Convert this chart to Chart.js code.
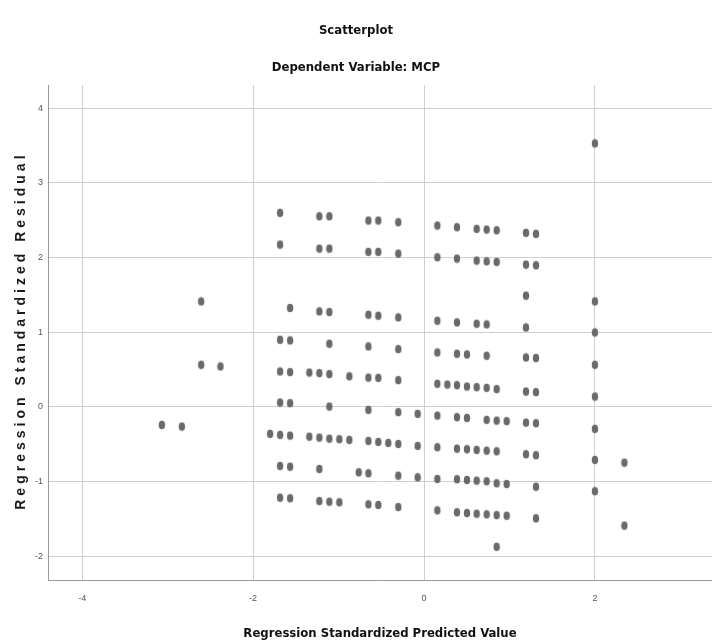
<!DOCTYPE html>
<html>
<head>
<meta charset="utf-8">
<title>Scatterplot</title>
<script src="https://cdn.jsdelivr.net/npm/chart.js@4.4.1/dist/chart.umd.min.js"></script>
<style>
  html, body { margin: 0; padding: 0; background: #fff; }
  #wrap { width: 712px; height: 644px; }
</style>
</head>
<body>
<div id="wrap"><canvas id="chart" width="712" height="644"></canvas></div>
<script>
/* ---------- Data ---------- */
// Regression standardized predicted value, one line per column of points
const predicted = [
  -3.068, -2.834, -2.608, -2.608, -2.382,
  -1.801,
  -1.684, -1.684, -1.684, -1.684, -1.684, -1.684, -1.684, -1.684,
  -1.567, -1.567, -1.567, -1.567, -1.567, -1.567, -1.567,
  -1.342, -1.342,
  -1.225, -1.225, -1.225, -1.225, -1.225, -1.225, -1.225,
  -1.108, -1.108, -1.108, -1.108, -1.108, -1.108, -1.108, -1.108,
  -0.991, -0.991,
  -0.874, -0.874,
  -0.764,
  -0.651, -0.651, -0.651, -0.651, -0.651, -0.651, -0.651, -0.651, -0.651,
  -0.535, -0.535, -0.535, -0.535, -0.535, -0.535,
  -0.418,
  -0.301, -0.301, -0.301, -0.301, -0.301, -0.301, -0.301, -0.301, -0.301,
  -0.074, -0.074, -0.074,
  0.156, 0.156, 0.156, 0.156, 0.156, 0.156, 0.156, 0.156, 0.156,
  0.273,
  0.386, 0.386, 0.386, 0.386, 0.386, 0.386, 0.386, 0.386, 0.386,
  0.503, 0.503, 0.503, 0.503, 0.503, 0.503,
  0.616, 0.616, 0.616, 0.616, 0.616, 0.616, 0.616,
  0.733, 0.733, 0.733, 0.733, 0.733, 0.733, 0.733, 0.733, 0.733,
  0.850, 0.850, 0.850, 0.850, 0.850, 0.850, 0.850, 0.850,
  0.967, 0.967, 0.967,
  1.193, 1.193, 1.193, 1.193, 1.193, 1.193, 1.193, 1.193,
  1.310, 1.310, 1.310, 1.310, 1.310, 1.310, 1.310, 1.310,
  2.000, 2.000, 2.000, 2.000, 2.000, 2.000, 2.000, 2.000,
  2.345, 2.345
];

// Regression standardized residual, same order as above
const residual = [
  -0.242, -0.264, 1.413, 0.564, 0.541,
  -0.362,
  2.600, 2.174, 0.899, 0.474, 0.058, -0.376, -0.792, -1.217,
  1.325, 0.890, 0.466, 0.050, -0.385, -0.801, -1.225,
  0.460, -0.399,
  2.554, 2.121, 1.279, 0.452, -0.412, -0.832, -1.262,
  2.554, 2.121, 1.271, 0.846, 0.439, 0.004, -0.426, -1.271,
  -0.434, -1.279,
  0.409, -0.443,
  -0.877,
  2.497, 2.077, 1.235, 0.809, 0.392, -0.040, -0.456, -0.890, -1.306,
  2.497, 2.077, 1.221, 0.389, -0.470, -1.315,
  -0.483,
  2.474, 2.054, 1.199, 0.774, 0.358, -0.071, -0.497, -0.922, -1.342,
  -0.094, -0.523, -0.944,
  2.430, 2.004, 1.154, 0.729, 0.309, -0.117, -0.541, -0.966, -1.387,
  0.299,
  2.407, 1.987, 1.132, 0.711, 0.291, -0.138, -0.560, -0.970, -1.413,
  0.702, 0.272, -0.148, -0.568, -0.980, -1.423,
  2.385, 1.960, 1.114, 0.264, -0.577, -0.989, -1.432,
  2.376, 1.950, 1.105, 0.685, 0.255, -0.174, -0.587, -0.997, -1.440,
  2.366, 1.942, 0.238, -0.184, -0.595, -1.024, -1.450, -1.875,
  -0.192, -1.034, -1.459,
  2.332, 1.906, 1.490, 1.064, 0.662, 0.205, -0.211, -0.635,
  2.318, 1.897, 0.654, 0.197, -0.219, -0.648, -1.070, -1.494,
  3.530, 1.413, 0.997, 0.564, 0.138, -0.295, -0.711, -1.130,
  -0.748, -1.591
];

const xTicks = [-4, -2, 0, 2];
const yTicks = [-2, -1, 0, 1, 2, 3, 4];
const yTitle = "Regression Standardized Residual";

/* ---------- Marker: small grey ellipse like SPSS ---------- */
const dot = document.createElement("canvas");
dot.width = 8;
dot.height = 10;
{
  const c = dot.getContext("2d");
  c.fillStyle = "#6a6a6a";
  c.beginPath();
  c.ellipse(4, 5, 3.2, 4.3, 0, 0, Math.PI * 2);
  c.fill();
}

const narrow = "'Liberation Sans Narrow', 'DejaVu Sans Condensed', 'Arial Narrow', sans-serif";
const gridColor = "#cfcfcf";
const tickFont = { family: "'Liberation Sans', Arial, sans-serif", size: 9 };

/* ---------- Y title: wide, letter-spaced bold like the SPSS output ---------- */
const spacedYTitle = {
  id: "spacedYTitle",
  afterDraw(chart) {
    const { ctx, chartArea } = chart;
    ctx.save();
    ctx.translate(21, (chartArea.top + chartArea.bottom) / 2);
    ctx.rotate(-Math.PI / 2);
    ctx.font = "bold 14px 'Liberation Sans', Arial, sans-serif";
    ctx.letterSpacing = "4px";
    ctx.fillStyle = "#1a1a1a";
    ctx.textAlign = "center";
    ctx.textBaseline = "middle";
    ctx.fillText(yTitle, 2, 0);
    ctx.restore();
  },
};

/* ---------- Chart ---------- */
new Chart(document.getElementById("chart"), {
  type: "scatter",
  data: {
    datasets: [{
      label: "Residuals",
      data: predicted.map((x, i) => ({ x, y: residual[i] })),
      pointStyle: dot,
      pointRadius: 4,
      pointHoverRadius: 4,
    }],
  },
  options: {
    responsive: false,
    animation: false,
    layout: { autoPadding: false, padding: 0 },
    plugins: {
      legend: { display: false },
      tooltip: { enabled: false },
      title: {
        display: true,
        text: "Scatterplot",
        color: "#111",
        font: { family: narrow, size: 13, weight: "bold" },
        padding: { top: 23, bottom: 21 },
      },
      subtitle: {
        display: true,
        text: "Dependent Variable: MCP",
        color: "#111",
        font: { family: narrow, size: 13, weight: "bold" },
        padding: { top: 0, bottom: 10 },
      },
    },
    scales: {
      x: {
        type: "linear",
        min: -4.4,
        max: 3.37,
        afterBuildTicks: (s) => { s.ticks = xTicks.map((v) => ({ value: v })); },
        afterFit: (s) => { s.height = 64; },
        grid: { color: gridColor, lineWidth: 1, drawTicks: false },
        border: { display: true, color: "#9a9a9a", width: 1 },
        ticks: { color: "#555", font: tickFont, padding: 13, maxRotation: 0 },
        title: {
          display: true,
          text: "Regression Standardized Predicted Value",
          color: "#111",
          font: { family: narrow, size: 13, weight: "bold" },
          padding: { top: 4, bottom: 3 },
        },
      },
      y: {
        type: "linear",
        min: -2.32,
        max: 4.31,
        afterBuildTicks: (s) => { s.ticks = yTicks.map((v) => ({ value: v })); },
        afterFit: (s) => { s.width = 48; },
        grid: { color: gridColor, lineWidth: 1, drawTicks: false },
        border: { display: true, color: "#9a9a9a", width: 1 },
        ticks: { color: "#555", font: tickFont, padding: 5 },
        title: { display: false },
      },
    },
  },
  plugins: [spacedYTitle],
});
</script>
</body>
</html>
